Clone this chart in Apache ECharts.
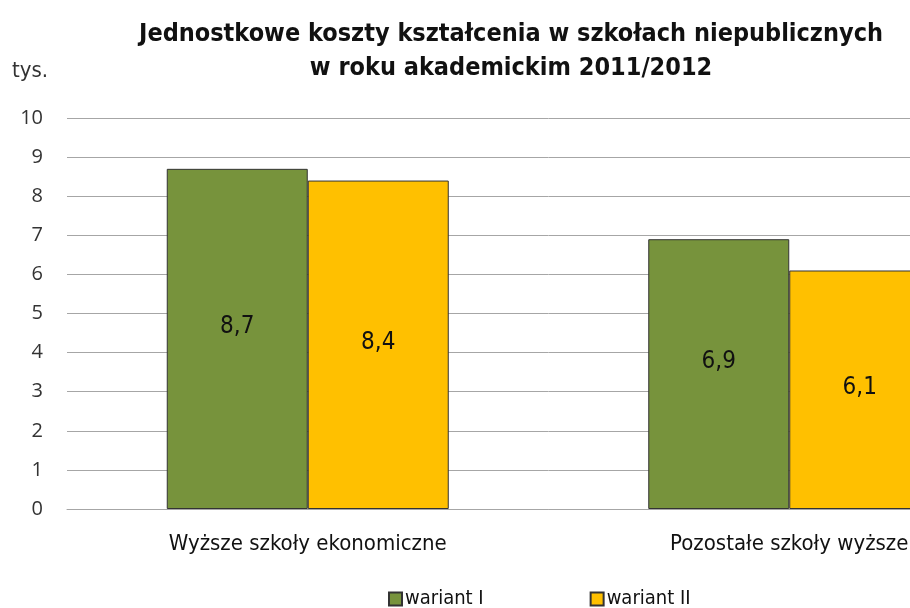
<!DOCTYPE html>
<html>
<head>
<meta charset="utf-8">
<script src="https://cdn.jsdelivr.net/npm/echarts@6/dist/echarts.min.js"></script>
<style>
  html, body { margin: 0; padding: 0; background: #fff; overflow: hidden; }
  #chart { width: 1030px; height: 608px; }
</style>
</head>
<body>
<div id="chart"></div>
<script>
var categories = ['Wyższe szkoły ekonomiczne', 'Pozostałe szkoły wyższe'];
var wariantI = [8.7, 6.9];
var wariantII = [8.4, 6.1];
var yTicks = [0, 1, 2, 3, 4, 5, 6, 7, 8, 9, 10];

var narrow = '"DejaVu Sans Condensed", "Liberation Sans Narrow", sans-serif';

// the original chart is wider than the picture, so the div overflows and the right part is cut
var myChart = echarts.init(document.getElementById('chart'));

function fmt(p) {
  return String(p.value).replace('.', ',');
}

var option = {
  animation: false,
  title: {
    text: 'Jednostkowe koszty kształcenia w szkołach niepublicznych\nw roku akademickim 2011/2012',
    left: 506,
    top: 12,
    textAlign: 'center',
    textStyle: {
      fontFamily: narrow,
      fontWeight: 'bold',
      fontSize: 25,
      lineHeight: 34,
      color: '#111'
    }
  },
  graphic: [{
    type: 'text',
    left: 12,
    top: 60,
    style: { text: 'tys.', fontSize: 22, fontFamily: narrow, fill: '#333' }
  }],
  legend: {
    bottom: -6,
    left: 383,
    itemGap: 106,
    itemWidth: 13,
    itemHeight: 13,
    icon: 'rect',
    textStyle: { fontFamily: narrow, fontSize: 20, color: '#111', padding: [0, 0, 0, -2] },
    data: ['wariant I', 'wariant II']
  },
  grid: {
    left: 67,
    top: 118,
    right: 0,
    bottom: 99,
    containLabel: false
  },
  xAxis: {
    type: 'category',
    data: categories,
    axisTick: { show: false },
    axisLine: { lineStyle: { color: '#a6a6a6', width: 1 } },
    axisLabel: {
      margin: 24,
      fontFamily: narrow,
      fontSize: 22,
      color: '#111'
    }
  },
  yAxis: {
    type: 'value',
    min: 0,
    max: 10,
    interval: 1,
    axisLine: { show: false },
    axisTick: { show: false },
    splitLine: { lineStyle: { color: '#a6a6a6', width: 1 } },
    axisLabel: {
      margin: 24,
      fontFamily: '"Open Sans", sans-serif',
      fontSize: 20,
      color: '#333',
      formatter: function (v) { return yTicks.indexOf(v) >= 0 ? String(v) : ''; }
    }
  },
  series: [
    {
      name: 'wariant I',
      type: 'bar',
      data: wariantI,
      barWidth: 141,
      barGap: '0%',
      itemStyle: { color: '#77933c', borderColor: '#333', borderWidth: 1 },
      label: {
        show: true,
        position: 'inside',
        offset: [0, -12],
        formatter: fmt,
        fontFamily: narrow,
        fontSize: 24,
        color: '#111'
      }
    },
    {
      name: 'wariant II',
      type: 'bar',
      data: wariantII,
      barWidth: 141,
      itemStyle: { color: '#ffc000', borderColor: '#333', borderWidth: 1 },
      label: {
        show: true,
        position: 'inside',
        offset: [0, -2],
        formatter: fmt,
        fontFamily: narrow,
        fontSize: 24,
        color: '#111'
      }
    }
  ]
};

myChart.setOption(option);
</script>
</body>
</html>
